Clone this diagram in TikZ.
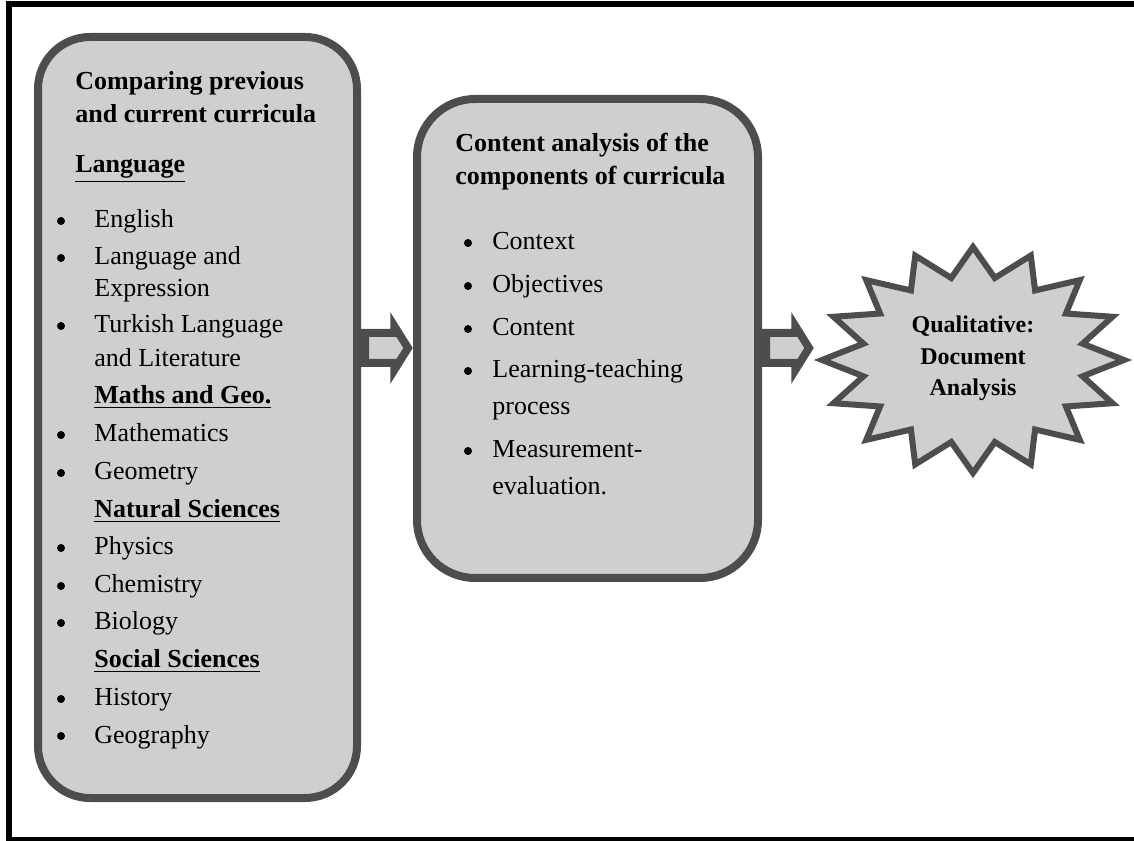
\documentclass[tikz,border=0pt]{standalone}
\usepackage{fontspec}
\setmainfont{Liberation Serif}
\definecolor{BoxGray}{RGB}{207, 207, 207}
\definecolor{EdgeGray}{RGB}{77, 77, 77}
\usetikzlibrary{shapes.arrows, calc}

\begin{document}
\begin{tikzpicture}[x=0.5pt, y=0.5pt,
    panel/.style={draw=EdgeGray, fill=BoxGray, line width=4pt, rounded corners=#1, inner sep=0pt},
    panel/.default=26pt,
    blockarr/.style={single arrow, draw=EdgeGray, fill=BoxGray, line width=4pt,
        minimum height=21.5pt, single arrow head extend=3.5pt, single arrow tip angle=116,
        inner xsep=0pt, inner ysep=5.5pt},
    head/.style={font=\fontsize{13}{16}\selectfont\bfseries, anchor=base west, inner sep=0pt},
    txt/.style={font=\fontsize{13}{16}\selectfont, anchor=base west, inner sep=0pt},
    bul/.style={circle, fill=black, inner sep=0pt, minimum size=4pt}]
        \useasboundingbox (0,0) rectangle (1134,840);

        % Frame round the figure
        \draw[line width=3pt] (1150,0) -- (9,0) -- (9,835.5) -- (1150,835.5);

        % Boxes
        \node[panel=26pt, minimum width=159.5pt, minimum height=380.5pt] (cmp) at (197.5,422.5) {};
        \node[panel=29pt, minimum width=170.5pt, minimum height=239.5pt] (cnt) at (587.5,501.5) {};

        % Arrows
        \coordinate (row) at (0,492);
        \node[blockarr, anchor=west] (arr1) at (cmp.east |- row) {};
        \node[blockarr, anchor=west] (arr2) at (cnt.east |- row) {};

        % Starburst
        \coordinate (sb) at (973,480);
        \filldraw[draw=EdgeGray, fill=BoxGray, line width=3pt]
            ($(sb)+(90:151 and 113)$)
            \foreach \k [evaluate=\k as \f using {1-0.26*mod(\k,2)}] in {1,...,31} {
                -- ($(sb)+({90-\k*11.25}:{151*\f} and {113*\f})$)
            } -- cycle;

        % Left box text
        \foreach \txt/\yy in {Comparing previous/90, and current curricula/123}
            \node[head] (cmpT\yy) at (75,840-\yy) {\txt};
        \node[head] (lang) at (75,840-173) {\underline{Language}};
        \foreach \txt/\yy in {Maths and Geo./404, Natural Sciences/518, Social Sciences/668}
            \node[head] (grp\yy) at (94,840-\yy) {\underline{\txt}};
        \foreach \txt/\yy in {English/228, Language and/265, Turkish Language/333, Mathematics/442,
                Geometry/480, Physics/555, Chemistry/593, Biology/630, History/706, Geography/743} {
            \node[bul] (dot\yy) at (61,847-\yy) {};
            \node[txt] (sub\yy) at (94,840-\yy) {\txt};
        }
        \foreach \txt/\yy in {Expression/297, and Literature/367}
            \node[txt] (sub\yy) at (94,840-\yy) {\txt};

        % Middle box text
        \foreach \txt/\yy in {Content analysis of the/152, components of curricula/185}
            \node[head] (cntT\yy) at (455,840-\yy) {\txt};
        \foreach \txt/\yy in {Context/250, Objectives/293, Content/336, Learning-teaching/378, Measurement-/458} {
            \node[bul] (mdot\yy) at (468,847-\yy) {};
            \node[txt] (comp\yy) at (492,840-\yy) {\txt};
        }
        \foreach \txt/\yy in {process/415, evaluation./495}
            \node[txt] (comp\yy) at (492,840-\yy) {\txt};

        % Starburst text
        \foreach \txt/\yy in {Qualitative:/333, Document/365, Analysis/396}
            \node[head, anchor=base, font=\fontsize{12}{14}\selectfont\bfseries] (qual\yy) at (973,840-\yy) {\txt};
\end{tikzpicture}
\end{document}
